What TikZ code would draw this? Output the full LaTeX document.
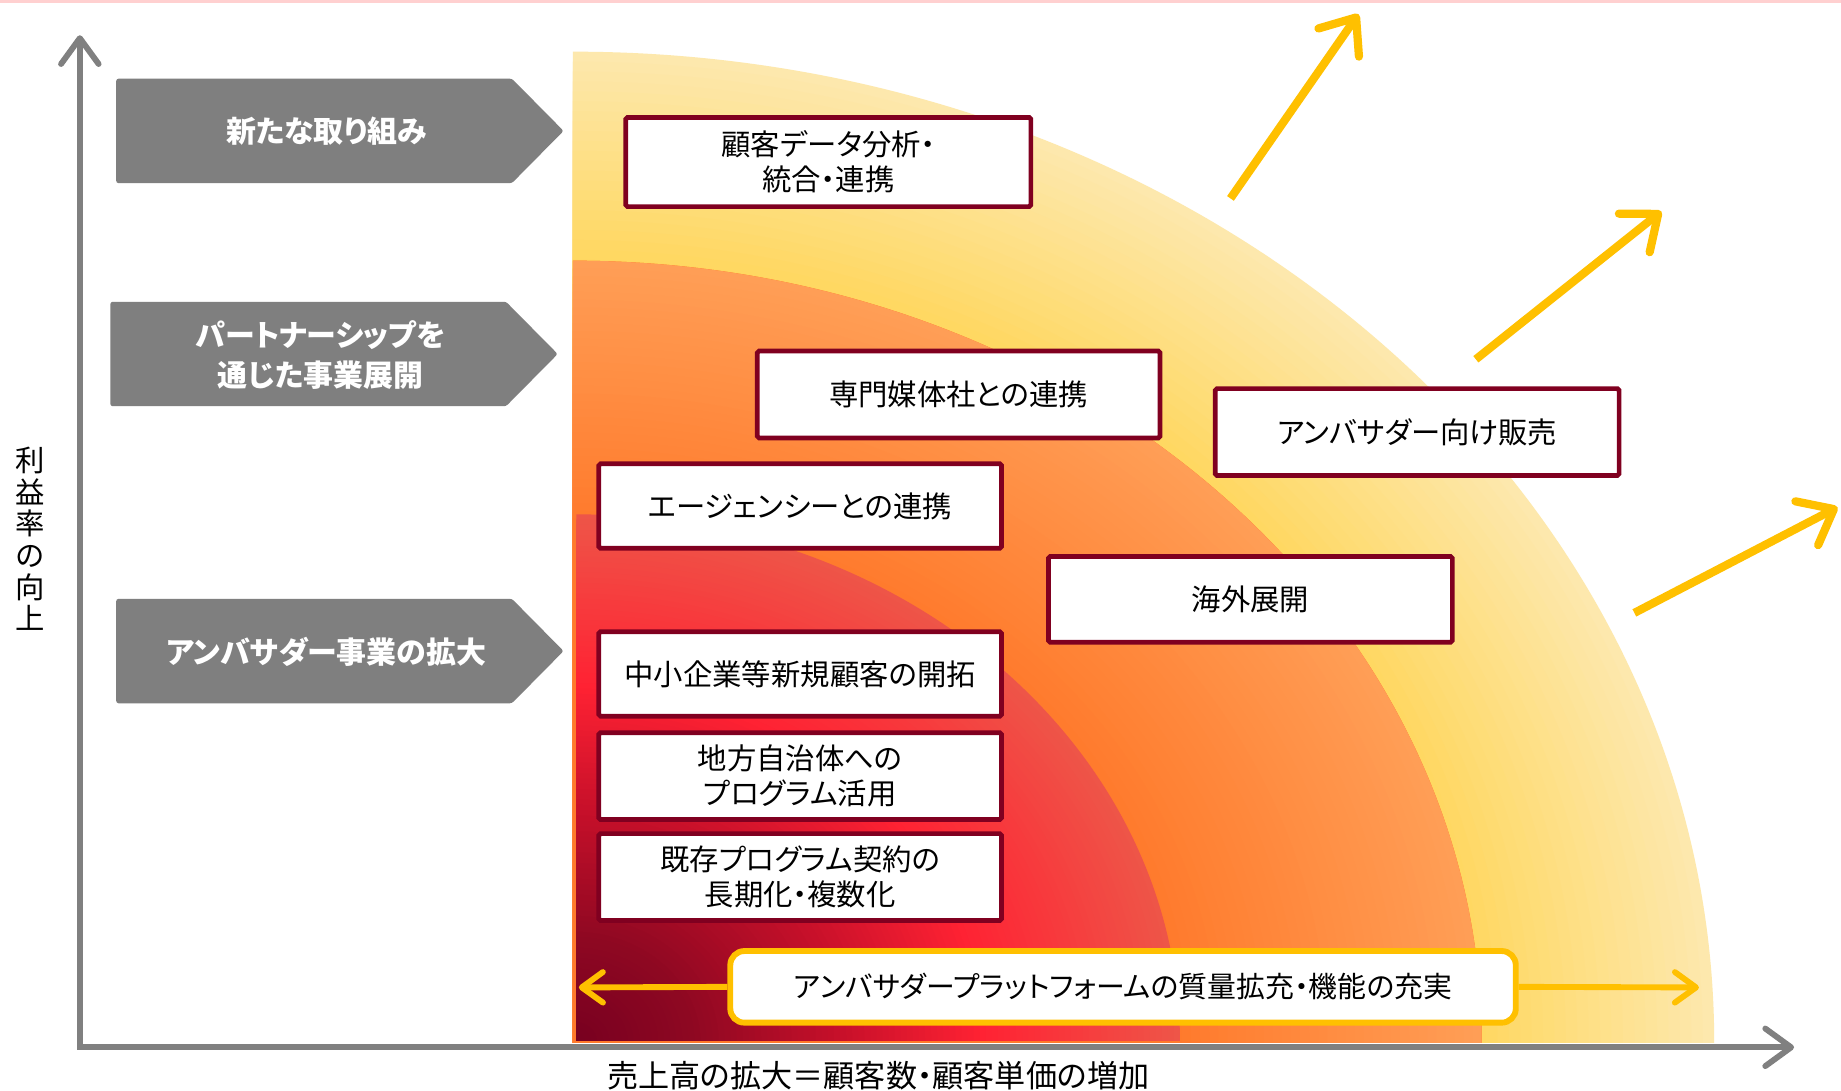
\documentclass[tikz,border=0pt]{standalone}
\usepackage{fontspec}
\newfontfamily\jp[RawFeature=+palt]{Noto Sans CJK JP}
\usetikzlibrary{arrows.meta}
\definecolor{ylw}{HTML}{FFC000}
\definecolor{bdr}{RGB}{128,0,32}
\definecolor{gry}{HTML}{808080}
\definecolor{pentgray}{HTML}{7F7F7F}
\definecolor{ypale}{HTML}{FDE8AD}
\definecolor{ydeep}{HTML}{FFD65A}
\definecolor{opale}{HTML}{FF9E56}
\definecolor{odeep}{HTML}{FF7A2C}
\definecolor{oedge}{HTML}{FF6E1E}
\definecolor{rrim}{HTML}{EE5548}
\definecolor{rbright}{HTML}{FF2233}
\definecolor{rmid}{HTML}{C8102A}
\definecolor{rdark}{HTML}{8E0822}
\definecolor{rdeep}{HTML}{780020}
\definecolor{pinkline}{HTML}{FFD0D0}

\newcommand\gradbands[8]{%
  \foreach \bi in {#5,...,#6}{%
    \pgfmathsetmacro\bandp{(\bi-(#6))/((#5)-(#6))*100}%
    \pgfmathsetmacro\bandrx{\bi/100*(#3)}%
    \pgfmathsetmacro\bandry{\bi/100*(#4)}%
    \fill[#7!\bandp!#8] (#1,#2) ellipse[x radius=\bandrx pt, y radius=\bandry pt];
  }}

\tikzset{
  axisline/.style={draw=gry, line width=5pt,
    {Straight Barb[length=22pt,width=32pt,round]}-{Straight Barb[length=22pt,width=32pt,round]}},
  pent/.style={fill=pentgray, rounded corners=2pt},
  penttxt/.style={text=white, align=center, inner sep=0pt,
    font=\jp\bfseries\fontsize{25.5}{34}\selectfont},
  itembox/.style={draw=bdr, line width=4pt, fill=white, rounded corners=1.5pt,
    align=center, inner sep=0pt, font=\jp\fontsize{25}{30}\selectfont},
  platbox/.style={draw=ylw, line width=5pt, fill=white, rounded corners=12pt,
    align=center, inner sep=0pt, font=\jp\fontsize{24.6}{30}\selectfont},
  flatarrow/.style={draw=ylw, line width=5pt, -{Straight Barb[length=18pt,width=26pt,round]}},
  growarrow/.style={draw=ylw, line width=7pt, -{Straight Barb[length=26pt,width=42pt,round]}},
  ylab/.style={align=center, inner sep=0pt, font=\jp\fontsize{25}{27}\selectfont},
  xlab/.style={inner sep=0pt, font=\jp\fontsize{26.5}{30}\selectfont},
}

\begin{document}
\begin{tikzpicture}[x=1pt,y=-1pt]
\useasboundingbox (0,0) rectangle (1568,929);
\fill[white] (0,0) rectangle (1568,929);
\fill[pinkline] (0,0) rectangle (1568,2.5);

% nested quarter ellipses with gradients
\begin{scope}
  \clip (488,0) rectangle (1568,888);
  \gradbands{488}{888}{972}{844}{100}{78}{ypale}{ydeep}
  \fill[oedge] (488,888) ellipse[x radius=774pt, y radius=666pt];
  \gradbands{488}{888}{774}{666}{100}{67}{opale}{odeep}
\end{scope}
\begin{scope}
  \clip (491,0) rectangle (1568,886);
  \gradbands{488}{888}{517}{450}{100}{68}{rrim}{rbright}
  \gradbands{488}{888}{517}{450}{68}{45}{rbright}{rmid}
  \gradbands{488}{888}{517}{450}{45}{20}{rmid}{rdark}
  \gradbands{488}{888}{517}{450}{20}{1}{rdark}{rdeep}
\end{scope}

% axes
\coordinate (origin) at (68,892);
\coordinate (ytip) at (68,30);
\coordinate (xtip) at (1528,892);
\draw[axisline] (ytip) -- (origin) -- (xtip);
\node[ylab] (ylabel) at (25.5,459) {利\\益\\率\\の\\向\\上};
\node[xlab] (xlabel) at (748,916) {売上高の拡大＝顧客数・顧客単価の増加};

% grey pentagons
\fill[pent] (99,67) -- (436,67) -- (480,111.5) -- (436,156) -- (99,156) -- cycle;
\node[penttxt] (p1) at (278,111.5) {新たな取り組み};
\fill[pent] (94,257) -- (431,257) -- (475,301.5) -- (431,346) -- (94,346) -- cycle;
\node[penttxt] (p2) at (273,302) {パートナーシップを\\通じた事業展開};
\fill[pent] (99,510) -- (436,510) -- (480,554.5) -- (436,599) -- (99,599) -- cycle;
\node[penttxt] (p3) at (278,555) {アンバサダー事業の拡大};

% item boxes
\node[itembox, minimum width=345pt, minimum height=76pt] (b1) at (705.5,138) {顧客データ分析・\\統合・連携};
\node[itembox, minimum width=343pt, minimum height=74pt] (b2) at (816.5,336) {専門媒体社との連携};
\node[itembox, minimum width=344pt, minimum height=74pt] (b3) at (1207,368) {アンバサダー向け販売};
\node[itembox, minimum width=343pt, minimum height=72pt] (b4) at (681.5,431) {エージェンシーとの連携};
\node[itembox, minimum width=344pt, minimum height=73pt] (b5) at (1065,510.5) {海外展開};
\node[itembox, minimum width=343pt, minimum height=72pt] (b6) at (681.5,574) {中小企業等新規顧客の開拓};
\node[itembox, minimum width=343pt, minimum height=74pt] (b7) at (681.5,661) {地方自治体への\\プログラム活用};
\node[itembox, minimum width=343pt, minimum height=74pt] (b8) at (681.5,747) {既存プログラム契約の\\長期化・複数化};

% platform box with arrows
\coordinate (lt) at (493,841);
\coordinate (rt) at (1447,841);
\node[platbox, minimum width=669pt, minimum height=61pt] (b9) at (956.5,840.5) {アンバサダープラットフォームの質量拡充・機能の充実};
\draw[flatarrow] (b9.west) -- (lt);
\draw[flatarrow] (b9.east) -- (rt);

% growth arrows
\coordinate (g1s) at (1048,169);
\coordinate (g1e) at (1157,12);
\coordinate (g2s) at (1257,306);
\coordinate (g2e) at (1415,180);
\coordinate (g3s) at (1392,522);
\coordinate (g3e) at (1565,432);
\draw[growarrow] (g1s) -- (g1e);
\draw[growarrow] (g2s) -- (g2e);
\draw[growarrow] (g3s) -- (g3e);
\end{tikzpicture}
\end{document}
